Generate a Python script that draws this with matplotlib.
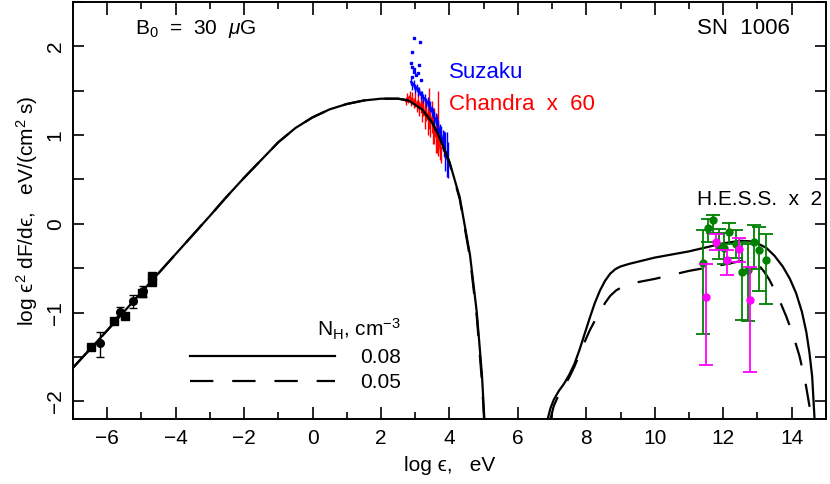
import numpy as np
import matplotlib
matplotlib.use("Agg")
import matplotlib.pyplot as plt
from matplotlib.lines import Line2D
from matplotlib.ticker import MultipleLocator

plt.rcParams['font.family'] = ['Liberation Sans', 'DejaVu Sans']
plt.rcParams['mathtext.fontset'] = 'custom'
plt.rcParams['mathtext.rm'] = 'Liberation Sans'
plt.rcParams['mathtext.it'] = 'Liberation Sans:italic'
plt.rcParams['mathtext.fallback'] = 'stixsans'

# model curves, N_H = 0.08 (solid) and 0.05 (dashed)
sync_x = [-7.0, -6.0, -5.0, -4.0, -3.0, -2.5, -2.0, -1.5, -1.0, -0.5, 0.0, 0.5, 1.0, 1.5, 2.0,
          2.5, 2.8, 3.2, 3.5, 3.7, 4.0, 4.3, 4.6, 4.8, 4.95, 5.02]
sync_y_008 = [-1.62, -1.20, -0.77, -0.34, 0.09, 0.31, 0.52, 0.72, 0.92, 1.08, 1.20, 1.29, 1.35, 1.39, 1.41,
              1.41, 1.39, 1.29, 1.14, 0.98, 0.70, 0.30, -0.35, -1.00, -1.70, -2.20]
sync_y_005 = [-1.62, -1.20, -0.77, -0.34, 0.09, 0.31, 0.52, 0.72, 0.92, 1.08, 1.20, 1.29, 1.35, 1.39, 1.41,
              1.41, 1.39, 1.29, 1.14, 0.97, 0.69, 0.28, -0.38, -1.05, -1.78, -2.25]

ic_x_008 = [6.87, 6.95, 7.05, 7.20, 7.35, 7.50, 7.65, 7.80, 7.95, 8.10, 8.25, 8.40, 8.55, 8.70,
            8.85, 9.00, 9.26, 10.0, 11.0, 12.0, 12.5, 12.9, 13.26, 13.5, 13.74, 13.95, 14.13,
            14.3, 14.43, 14.52, 14.6, 14.67]
ic_y_008 = [-2.20, -2.08, -1.98, -1.88, -1.80, -1.70, -1.58, -1.42, -1.24, -1.06, -0.89, -0.75, -0.64, -0.56,
            -0.51, -0.48, -0.45, -0.38, -0.31, -0.22, -0.19, -0.20, -0.27, -0.36, -0.48, -0.62, -0.78,
            -0.99, -1.22, -1.45, -1.72, -2.20]
ic_x_005 = [6.95, 7.05, 7.20, 7.35, 7.50, 7.65, 7.80, 7.95, 8.10, 8.25, 8.40, 8.55, 8.70, 8.87,
            9.05, 9.46, 10.0, 11.0, 12.0, 12.5, 12.8, 13.05, 13.2, 13.35, 13.6, 13.84, 14.05,
            14.23, 14.4, 14.52, 14.58]
ic_y_005 = [-2.20, -2.05, -1.92, -1.83, -1.73, -1.61, -1.47, -1.33, -1.20, -1.09, -0.99, -0.89, -0.81, -0.75,
            -0.71, -0.66, -0.62, -0.53, -0.46, -0.42, -0.41, -0.47, -0.54, -0.63, -0.82, -1.04, -1.26,
            -1.49, -1.78, -2.05, -2.20]

# radio
radio_sq_x = [-6.48, -5.80, -5.49, -4.99, -4.70, -4.70]
radio_sq_y = [-1.39, -1.10, -1.04, -0.78, -0.59, -0.66]
radio_c_x = [-6.21, -5.62, -5.24, -4.97]
radio_c_y = [-1.34, -0.99, -0.87, -0.76]
radio_c_hi = [0.12, 0.05, 0.07, 0.06]
radio_c_lo = [0.16, 0.05, 0.08, 0.06]

# Chandra x 60
chandra_x = [2.72, 2.76, 2.80, 2.84, 2.88, 2.92, 2.96, 3.00, 3.04, 3.08, 3.12, 3.16, 3.20, 3.24,
             3.28, 3.32, 3.36, 3.40, 3.44, 3.48, 3.52, 3.56, 3.60, 3.64, 3.68, 3.72, 3.75]
chandra_y = [1.38, 1.42, 1.40, 1.44, 1.38, 1.42, 1.36, 1.40, 1.33, 1.38, 1.30, 1.35, 1.27, 1.32,
             1.22, 1.28, 1.18, 1.30, 1.12, 1.20, 1.05, 1.10, 0.98, 1.02, 1.13, 0.86, 0.78]
chandra_err = [0.04, 0.05, 0.04, 0.06, 0.05, 0.07, 0.06, 0.08, 0.07, 0.09, 0.08, 0.10, 0.12, 0.10,
               0.15, 0.12, 0.18, 0.23, 0.14, 0.18, 0.15, 0.20, 0.18, 0.22, 0.37, 0.14, 0.10]

# Suzaku
suzaku_x = [2.88, 2.92, 2.96, 3.00, 3.04, 3.08, 3.12, 3.16, 3.20, 3.24, 3.28, 3.32, 3.36, 3.40,
            3.44, 3.48, 3.52, 3.56, 3.60, 3.64, 3.68, 3.72, 3.76, 3.80, 3.84, 3.88, 3.92, 3.95]
suzaku_y = [1.60, 1.56, 1.58, 1.52, 1.54, 1.49, 1.50, 1.45, 1.46, 1.41, 1.42, 1.37, 1.38, 1.33,
            1.32, 1.27, 1.25, 1.20, 1.18, 1.12, 1.09, 1.03, 1.00, 0.94, 0.90, 0.82, 0.78, 0.72]
suzaku_err = [0.04, 0.05, 0.04, 0.05, 0.04, 0.05, 0.04, 0.05, 0.04, 0.05, 0.04, 0.05, 0.05, 0.05,
              0.06, 0.06, 0.06, 0.07, 0.07, 0.08, 0.08, 0.09, 0.10, 0.12, 0.15, 0.22, 0.25, 0.20]
suzaku_dot_x = [2.97, 3.14, 2.92, 2.88, 2.90, 3.12, 2.97, 3.07, 2.92, 3.17, 2.95, 3.02]
suzaku_dot_y = [2.09, 2.05, 1.94, 1.81, 1.77, 1.79, 1.71, 1.70, 1.66, 1.62, 1.75, 1.68]

# H.E.S.S. x 2
hess_g_x = [11.40, 11.55, 11.70, 11.87, 12.02, 12.18, 12.38, 12.55, 12.72, 12.89, 13.06, 13.26]
hess_g_y = [-0.44, -0.05, 0.04, -0.25, -0.27, -0.09, -0.23, -0.54, -0.52, -0.20, -0.30, -0.41]
hess_g_hi = [-0.07, 0.06, 0.10, -0.06, -0.10, 0.01, -0.07, -0.20, -0.23, -0.01, -0.03, -0.11]
hess_g_lo = [-1.24, -0.20, -0.10, -0.40, -0.45, -0.23, -0.38, -1.08, -1.09, -0.51, -0.76, -0.90]
hess_m_x = [11.50, 11.80, 12.12, 12.45, 12.78]
hess_m_y = [-0.82, -0.20, -0.41, -0.28, -0.86]
hess_m_hi = [-0.45, -0.11, -0.30, -0.16, -0.49]
hess_m_lo = [-1.59, -0.30, -0.58, -0.43, -1.67]

fig = plt.figure(figsize=(8.3, 4.84), dpi=100)
ax = fig.add_axes([0.088, 0.134, 0.907, 0.862])

dash = (10.5, 8.5)

# x-ray data
ax.errorbar(chandra_x, chandra_y, yerr=chandra_err, color='#ff0000', lw=1.0, elinewidth=1.0, zorder=2)
ax.errorbar(suzaku_x, suzaku_y, yerr=suzaku_err, color='#0000ff', lw=1.5, elinewidth=1.0, zorder=3)
ax.plot(suzaku_dot_x, suzaku_dot_y, 's', color='#0000ff', ms=2, zorder=3)

# model
ax.plot(sync_x, sync_y_008, '-', color='k', lw=1.6, zorder=4)
ax.plot(sync_x, sync_y_005, color='k', lw=1.6, dashes=dash, zorder=4)
ax.plot(ic_x_008, ic_y_008, '-', color='k', lw=1.6, zorder=4)
ax.plot(ic_x_005, ic_y_005, color='k', lw=1.6, dashes=dash, zorder=4)

# radio
ax.plot(radio_sq_x, radio_sq_y, 's', color='k', ms=5.5, zorder=5)
ax.errorbar(radio_c_x, radio_c_y, yerr=[radio_c_lo, radio_c_hi], fmt='o', color='k', ms=5.5,
            elinewidth=1.0, capsize=3, zorder=5)

# gamma
g_y = np.array(hess_g_y)
ax.errorbar(hess_g_x, g_y, yerr=[g_y - np.array(hess_g_lo), np.array(hess_g_hi) - g_y], fmt='o',
            color='#008000', ms=5, elinewidth=1.3, capsize=5, capthick=1.3, zorder=6)
m_y = np.array(hess_m_y)
ax.errorbar(hess_m_x, m_y, yerr=[m_y - np.array(hess_m_lo), np.array(hess_m_hi) - m_y], fmt='o',
            color='#ff00ff', ms=5, elinewidth=1.3, capsize=5, capthick=1.3, zorder=7)

ax.set_xlim(-7, 15)
ax.set_ylim(-2.2, 2.5)
ax.xaxis.set_major_locator(MultipleLocator(2))
ax.xaxis.set_minor_locator(MultipleLocator(1))
ax.yaxis.set_major_locator(MultipleLocator(1))
ax.yaxis.set_minor_locator(MultipleLocator(0.5))
ax.tick_params(which='both', direction='in', top=True, right=True, width=1.2, labelsize=15)
ax.tick_params(axis='x', which='major', length=9, pad=7)
ax.tick_params(axis='x', which='minor', length=5)
ax.tick_params(axis='y', which='both', length=8)
ax.tick_params(axis='y', which='major', labelrotation=90, pad=6)
for lab in ax.get_yticklabels():
    lab.set_va('center')
for s in ax.spines.values():
    s.set_linewidth(1.4)

ax.set_xlabel('log ϵ,   eV', fontsize=15, labelpad=6)
ax.set_ylabel('log ϵ$^2$ dF/dϵ,   eV/(cm$^2$ s)', fontsize=15, labelpad=4)

ax.text(-5.2, 2.19, 'B$_0$  =  30  $\\mu$G', fontsize=15, va='center')
ax.text(13.95, 2.2, 'SN  1006', fontsize=16, va='center', ha='right')
ax.text(4.0, 1.71, 'Suzaku', fontsize=16, va='center', color='#0000ff')
ax.text(4.0, 1.34, 'Chandra  x  60', fontsize=16, va='center', color='#ff0000')
ax.text(14.9, 0.27, 'H.E.S.S.  x  2', fontsize=15, va='center', ha='right')

handles = [Line2D([], [], color='k', lw=1.6),
           Line2D([], [], color='k', lw=1.6, dashes=dash)]
ax.legend(handles, ['0.08', '0.05'], title='N$_\\mathrm{H}$, cm$^{-3}$', alignment='right', frameon=False,
          fontsize=15, title_fontsize=15, handlelength=7, handletextpad=1.2, labelspacing=0.3,
          loc='lower left', bbox_to_anchor=(0.13, 0.02))

fig.savefig('out.png', dpi=100)
